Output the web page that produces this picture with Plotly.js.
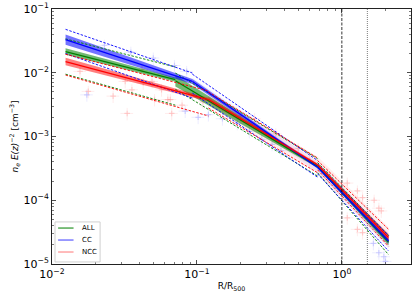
<!DOCTYPE html>
<html>
<head>
<meta charset="utf-8">
<script src="https://cdn.plot.ly/plotly-3.0.1.min.js"></script>
<style>html,body{margin:0;padding:0;background:#fff}#chart{width:415px;height:297px}</style>
</head>
<body>
<div id="chart"></div>
<script>
// ---- data ----
const seriesNames = ['ALL', 'CC', 'NCC'];

// segment break radii (R/R500) and fitted profile values at each segment end
const allBreaks = [0.0124, 0.071, 0.68, 2.1];
const allFit = [[0.0215, 0.0078], [0.0075, 3.4e-4], [3.4e-4, 2.2e-5]];
const allBand = [[0.05, 0.035], [0.09, 0.02], [0.02, 0.05]];   // half width, dex
const allHi = [[0.034, 0.0123], [0.0099, 4.5e-4], [3.9e-4, 2.8e-5]];
const allLo = [[0.0095, 0.0031], [0.0055, 2.4e-4], [2.7e-4, 1.4e-5]];

const ccBreaks = [0.0124, 0.093, 0.68, 2.1];
const ccFit = [[0.033, 0.0073], [0.0073, 3.3e-4], [3.3e-4, 2.3e-5]];
const ccBand = [[0.08, 0.04], [0.04, 0.02], [0.02, 0.04]];
const ccHi = [[0.048, 0.0099], [0.0095, 4.2e-4], [3.7e-4, 2.8e-5]];
const ccLo = [[0.020, 0.0040], [0.0048, 2.3e-4], [2.6e-4, 1.6e-5]];
const ccSpread = [[0, 0], [0.06, 0.08], [0.08, 0.12]];         // faint envelope, dex

const nccBreaks = [0.0124, 0.12, 0.68, 2.1];
const nccFit = [[0.015, 0.0038], [0.0038, 3.6e-4], [3.6e-4, 2.6e-5]];
const nccBand = [[0.06, 0.03], [0.04, 0.02], [0.02, 0.05]];
const nccHi = [[0.0195, 0.0052], [0.0050, 4.6e-4], [4.2e-4, 3.5e-5]];
const nccLo = [[0.0092, 0.0021], [0.0028, 2.7e-4], [3.0e-4, 1.9e-5]];
const nccSpread = [[0, 0], [0.1, 0.13], [0.13, 0.16]];

// individual cluster points (faint)
const nccPtsX = [0.0156, 0.0178, 0.0264, 0.033, 0.0356, 0.0426, 0.049, 0.057, 0.0655, 0.067, 0.032, 0.051, 0.0418, 0.063, 0.079, 0.11, 0.15, 0.2, 0.25, 0.35, 0.5, 0.6, 0.8, 1.09, 1.28, 1.39, 1.8, 1.09, 1.28, 1.39, 1.67, 1.87];
const nccPtsY = [0.0105, 0.0051, 0.0043, 0.0023, 0.0054, 0.0069, 0.0073, 0.0054, 0.0038, 0.0023, 0.0073, 0.0038, 0.0112, 0.0038, 0.0031, 0.0035, 0.0028, 0.0021, 0.0019, 0.0011, 6.5e-4, 4.2e-4, 2.6e-4, 1.86e-4, 1.4e-4, 1.1e-4, 7.5e-5, 5.3e-5, 3.5e-5, 3.1e-5, 1.0e-4, 6.8e-5];
const ccPtsX = [0.0174, 0.023, 0.035, 0.05, 0.07, 0.085, 0.083, 0.102, 0.12, 0.15, 0.19, 0.23, 0.28, 0.33, 0.38, 1.65, 1.8, 1.95, 2.0];
const ccPtsY = [0.0045, 0.027, 0.021, 0.017, 0.013, 0.0105, 0.0025, 0.0020, 0.0022, 0.0019, 0.0016, 0.0012, 9e-4, 7.5e-4, 6e-4, 2.1e-5, 1.5e-5, 1.3e-5, 1.1e-5];

const refLines = [1.0, 1.5];
const yLimits = [1e-5, 1e-1];
const xDecades = [-2, -1, 0];
const yDecades = [-5, -4, -3, -2, -1];

// ---- styling ----
const lineColors = {ALL: '#008000', CC: '#0000ff', NCC: '#ff0000'};
const bandColors = {ALL: 'rgba(0,128,0,0.55)', CC: 'rgba(0,0,255,0.55)', NCC: 'rgba(255,0,0,0.5)'};
const legendColors = {ALL: 'rgba(0,128,0,0.85)', CC: 'rgba(0,0,255,0.65)', NCC: 'rgba(255,0,0,0.45)'};

const groups = {
  ALL: {b: allBreaks, f: allFit, w: allBand, hi: allHi, lo: allLo, sp: null},
  CC: {b: ccBreaks, f: ccFit, w: ccBand, hi: ccHi, lo: ccLo, sp: ccSpread},
  NCC: {b: nccBreaks, f: nccFit, w: nccBand, hi: nccHi, lo: nccLo, sp: nccSpread}
};
const spreadColors = {CC: 'rgba(120,100,255,0.10)', NCC: 'rgba(255,90,90,0.10)'};

function bandPoly(b, f, w, s) {
  const x0 = b[s], x1 = b[s + 1], y0 = f[s][0], y1 = f[s][1];
  const w0 = Math.pow(10, w[s][0]), w1 = Math.pow(10, w[s][1]);
  return {x: [x0, x1, x1, x0, x0], y: [y0 * w0, y1 * w1, y1 / w1, y0 / w0, y0 * w0]};
}

const traces = [];
// faint envelopes
['NCC', 'CC'].forEach(name => {
  const g = groups[name];
  for (let s = 1; s < g.f.length; s++) {
    const p = bandPoly(g.b, g.f, g.sp, s);
    traces.push({x: p.x, y: p.y, type: 'scatter', mode: 'lines', fill: 'toself', fillcolor: spreadColors[name],
      line: {width: 0}, showlegend: false, hoverinfo: 'skip'});
  }
});
// faint individual points
traces.push({x: nccPtsX, y: nccPtsY, type: 'scatter', mode: 'markers', showlegend: false, hoverinfo: 'skip',
  marker: {symbol: 'cross-thin-open', size: 4, color: 'rgba(255,110,110,0.28)', line: {width: 1.2, color: 'rgba(255,110,110,0.28)'}},
  error_y: {type: 'percent', value: 22, color: 'rgba(255,110,110,0.18)', thickness: 0.8, width: 0},
  error_x: {type: 'percent', value: 10, color: 'rgba(255,110,110,0.18)', thickness: 0.8, width: 0}});
traces.push({x: ccPtsX, y: ccPtsY, type: 'scatter', mode: 'markers', showlegend: false, hoverinfo: 'skip',
  marker: {symbol: 'cross-thin-open', size: 4, color: 'rgba(120,120,255,0.28)', line: {width: 1.2, color: 'rgba(120,120,255,0.28)'}},
  error_y: {type: 'percent', value: 22, color: 'rgba(120,120,255,0.18)', thickness: 0.8, width: 0},
  error_x: {type: 'percent', value: 10, color: 'rgba(120,120,255,0.18)', thickness: 0.8, width: 0}});

seriesNames.forEach(name => {
  const g = groups[name];
  for (let s = 0; s < g.f.length; s++) {
    const p = bandPoly(g.b, g.f, g.w, s);
    traces.push({x: p.x, y: p.y, type: 'scatter', mode: 'lines', fill: 'toself', fillcolor: bandColors[name],
      line: {width: 0}, showlegend: false, hoverinfo: 'skip'});
  }
});
seriesNames.forEach(name => {
  const g = groups[name];
  const lx = [], ly = [], hx = [], hy = [], ox = [], oy = [];
  for (let s = 0; s < g.f.length; s++) {
    lx.push(g.b[s], g.b[s + 1], null); ly.push(g.f[s][0], g.f[s][1], null);
    hx.push(g.b[s], g.b[s + 1], null); hy.push(g.hi[s][0], g.hi[s][1], null);
    ox.push(g.b[s], g.b[s + 1], null); oy.push(g.lo[s][0], g.lo[s][1], null);
  }
  traces.push({x: lx, y: ly, type: 'scatter', mode: 'lines', line: {color: lineColors[name], width: 1.3}, showlegend: false, hoverinfo: 'skip'});
  traces.push({x: hx, y: hy, type: 'scatter', mode: 'lines', line: {color: lineColors[name], width: 0.9, dash: '2.5px,1.5px'}, showlegend: false, hoverinfo: 'skip'});
  traces.push({x: ox, y: oy, type: 'scatter', mode: 'lines', line: {color: lineColors[name], width: 0.9, dash: '2.5px,1.5px'}, showlegend: false, hoverinfo: 'skip'});
});
// reference radii
traces.push({x: [refLines[0], refLines[0]], y: yLimits, type: 'scatter', mode: 'lines', line: {color: '#000', width: 0.8, dash: '3px,1.5px'}, showlegend: false, hoverinfo: 'skip'});
traces.push({x: [refLines[1], refLines[1]], y: yLimits, type: 'scatter', mode: 'lines', line: {color: '#444', width: 0.7, dash: '1px,1px'}, showlegend: false, hoverinfo: 'skip'});

function decadeTicks(decs) {
  return {vals: decs.map(d => Math.pow(10, d)), text: decs.map(d => '10<sup>' + (d < 0 ? '−' + (-d) : d) + '</sup>')};
}
function minorVals(decs) {
  const out = [];
  for (let d = decs[0] - 1; d <= decs[decs.length - 1]; d++) for (let m = 2; m <= 9; m++) out.push(m * Math.pow(10, d));
  return out;
}
const xt = decadeTicks(xDecades), yt = decadeTicks(yDecades);

const axisCommon = {
  type: 'log', showgrid: false, zeroline: false, showline: true, linecolor: '#222', linewidth: 1,
  mirror: 'ticks', ticks: 'inside', ticklen: 4, tickwidth: 0.8, tickcolor: '#222',
  tickmode: 'array',
  tickfont: {family: 'DejaVu Sans', size: 11, color: '#000'}
};

// custom compact legend (matplotlib style box)
const legBox = {x0: 0.0084, x1: 0.134, y0: 0.008, y1: 0.165};
const legRows = [0.141, 0.094, 0.047];
const shapes = [{type: 'rect', xref: 'paper', yref: 'paper', x0: legBox.x0, x1: legBox.x1, y0: legBox.y0, y1: legBox.y1,
  line: {color: '#d0d0d0', width: 1}, fillcolor: 'rgba(255,255,255,0.85)', layer: 'above'}];
const annotations = [];
seriesNames.forEach((name, i) => {
  shapes.push({type: 'line', xref: 'paper', yref: 'paper', x0: 0.017, x1: 0.06, y0: legRows[i], y1: legRows[i],
    line: {color: legendColors[name], width: 1.2}, layer: 'above'});
  annotations.push({xref: 'paper', yref: 'paper', x: 0.078, y: legRows[i], xanchor: 'left', yanchor: 'middle',
    text: name, showarrow: false, font: {family: 'DejaVu Sans', size: 7, color: '#000'}});
});

const layout = {
  width: 415, height: 297,
  margin: {l: 52, r: 4, t: 9, b: 33},
  paper_bgcolor: '#fff', plot_bgcolor: '#fff',
  font: {family: 'DejaVu Sans', color: '#000'},
  xaxis: Object.assign({}, axisCommon, {range: [-2, Math.log10(3)], tickvals: xt.vals, ticktext: xt.text,
    minor: {tickmode: 'array', tickvals: minorVals(xDecades), ticks: 'inside', ticklen: 2, tickwidth: 0.6, tickcolor: '#222', showgrid: false},
    title: {text: 'R/R<sub>500</sub>', font: {size: 9}, standoff: 2}}),
  yaxis: Object.assign({}, axisCommon, {range: [Math.log10(yLimits[0]), Math.log10(yLimits[1])], tickvals: yt.vals, ticktext: yt.text,
    minor: {tickmode: 'array', tickvals: minorVals(yDecades), ticks: 'inside', ticklen: 2, tickwidth: 0.6, tickcolor: '#222', showgrid: false},
    title: {text: '<i>n<sub>e</sub> E(z)</i><sup>−2</sup> [cm<sup>−3</sup>]', font: {size: 9}, standoff: 3}}),
  showlegend: false,
  shapes: shapes,
  annotations: annotations
};

Plotly.newPlot('chart', traces, layout, {staticPlot: true, displayModeBar: false});
</script>
</body>
</html>
